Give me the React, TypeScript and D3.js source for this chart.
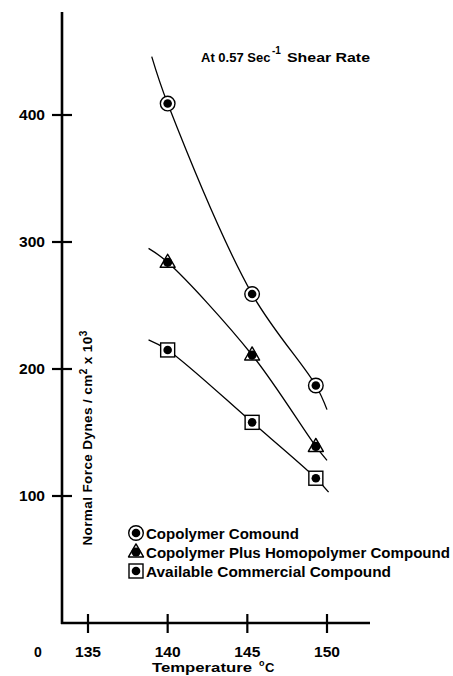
import React from "react";
import * as d3 from "d3";

// ---- data ----
const xTicks = [135, 140, 145, 150];
const yTicks = [100, 200, 300, 400];
const seriesNames = [
  "Copolymer Comound",
  "Copolymer Plus Homopolymer Compound",
  "Available Commercial Compound",
];
const seriesMarkers = ["circle", "triangle", "square"];
const copolymerTemp = [140, 145.3, 149.3];
const copolymerForce = [409, 259, 187];
const plusHomoTemp = [140, 145.3, 149.3];
const plusHomoForce = [284, 211, 139];
const commercialTemp = [140, 145.3, 149.3];
const commercialForce = [215, 158, 114];
// fitted curve ends: [start, end]
const copolymerCurveEnds = [[139.0, 446], [150.0, 168]];
const plusHomoCurveEnds = [[138.8, 295], [150.0, 128]];
const commercialCurveEnds = [[138.8, 223], [150.1, 103]];

const FONT = "'Liberation Sans', Arial, sans-serif";
const legendWidths = [153, 304, 245];

export default function App() {
  const W = 453, H = 676;
  const x = d3.scaleLinear().domain([135, 150]).range([88, 327]);
  const y = d3.scaleLinear().domain([0, 400]).range([623, 115]);
  const axisX = 62;
  const axisY = 623;

  const series = [
    { t: copolymerTemp, f: copolymerForce, ends: copolymerCurveEnds, m: seriesMarkers[0] },
    { t: plusHomoTemp, f: plusHomoForce, ends: plusHomoCurveEnds, m: seriesMarkers[1] },
    { t: commercialTemp, f: commercialForce, ends: commercialCurveEnds, m: seriesMarkers[2] },
  ];

  const line = d3
    .line<number[]>()
    .x((d) => x(d[0]))
    .y((d) => y(d[1]))
    .curve(d3.curveCatmullRom.alpha(0.5));

  const marker = (m: string, cx: number, cy: number, key: string) => {
    if (m === "circle") {
      return (
        <g key={key}>
          <circle cx={cx} cy={cy} r={7.3} fill="#fff" stroke="#000" strokeWidth={1.4} />
          <circle cx={cx} cy={cy} r={4.3} fill="#000" />
        </g>
      );
    }
    if (m === "triangle") {
      const s = 15;
      const h = s * 0.87;
      const pts = [
        [cx, cy - h * 0.62],
        [cx - s / 2, cy + h * 0.38],
        [cx + s / 2, cy + h * 0.38],
      ];
      return (
        <g key={key}>
          <polygon points={pts.map((p) => p.join(",")).join(" ")} fill="#fff" stroke="#000" strokeWidth={1.4} strokeLinejoin="round" />
          <circle cx={cx} cy={cy} r={4.6} fill="#000" />
        </g>
      );
    }
    return (
      <g key={key}>
        <rect x={cx - 7} y={cy - 7} width={14} height={14} fill="#fff" stroke="#000" strokeWidth={1.4} />
        <circle cx={cx} cy={cy} r={4.3} fill="#000" />
      </g>
    );
  };

  return (
    <svg width={W} height={H} style={{ position: "absolute", left: 0, top: 0, background: "#fff" }} fontFamily={FONT}>
      <rect width={W} height={H} fill="#fff" />
      {/* axes */}
      <line x1={axisX} y1={12} x2={axisX} y2={axisY + 1} stroke="#000" strokeWidth={2.6} />
      <line x1={axisX - 1} y1={axisY} x2={370} y2={axisY} stroke="#000" strokeWidth={2.6} />
      {yTicks.map((v) => (
        <g key={"yt" + v}>
          <line x1={axisX - 10} x2={axisX + 10} y1={y(v)} y2={y(v)} stroke="#000" strokeWidth={2.2} />
          <text x={axisX - 17} y={y(v) + 5} textAnchor="end" fontSize={14} fontWeight="bold" textLength={26} lengthAdjust="spacingAndGlyphs">
            {v}
          </text>
        </g>
      ))}
      {xTicks.map((v) => (
        <g key={"xt" + v}>
          <line x1={x(v)} x2={x(v)} y1={axisY - 9} y2={axisY + 10} stroke="#000" strokeWidth={2.2} />
          <text x={x(v) - 13} y={657} fontSize={14} fontWeight="bold" textLength={26} lengthAdjust="spacingAndGlyphs">
            {v}
          </text>
        </g>
      ))}
      <text x={38} y={657} textAnchor="middle" fontSize={14} fontWeight="bold">0</text>
      <text x={152} y={672} fontSize={13} fontWeight="bold" textLength={100} lengthAdjust="spacingAndGlyphs">Temperature</text>
      <text x={259} y={666} fontSize={9} fontWeight="bold">o</text>
      <text x={265} y={672} fontSize={13} fontWeight="bold">C</text>

      {/* y label */}
      <text transform={`translate(92,${438}) rotate(-90)`} textAnchor="middle" fontSize={13.5} fontWeight="bold" letterSpacing={0.4}>
        Normal Force Dynes / cm<tspan dy={-5} fontSize={10}>2</tspan>
        <tspan dy={5}> x 10</tspan>
        <tspan dy={-5} fontSize={10}>3</tspan>
      </text>

      {/* title */}
      <text x={201} y={62} fontSize={13} fontWeight="bold">At 0.57 Sec</text>
      <text x={272} y={54} fontSize={10} fontWeight="bold">-1</text>
      <text x={287} y={62} fontSize={13.5} fontWeight="bold" textLength={83} lengthAdjust="spacingAndGlyphs">Shear Rate</text>

      {/* curves */}
      {series.map((s, i) => {
        const pts = [s.ends[0], ...s.t.map((t, j) => [t, s.f[j]]), s.ends[1]];
        return <path key={"c" + i} d={line(pts) || ""} fill="none" stroke="#000" strokeWidth={1.3} />;
      })}
      {/* markers */}
      {series.map((s, i) => s.t.map((t, j) => marker(s.m, x(t), y(s.f[j]), `m${i}-${j}`)))}

      {/* legend */}
      {seriesNames.map((n, i) => (
        <g key={"lg" + i}>
          {marker(seriesMarkers[i], 136, 533 + i * 19, "lgm" + i)}
          <text x={146} y={538.5 + i * 19} fontSize={14} fontWeight="bold" textLength={legendWidths[i]} lengthAdjust="spacingAndGlyphs">
            {n}
          </text>
        </g>
      ))}
    </svg>
  );
}
